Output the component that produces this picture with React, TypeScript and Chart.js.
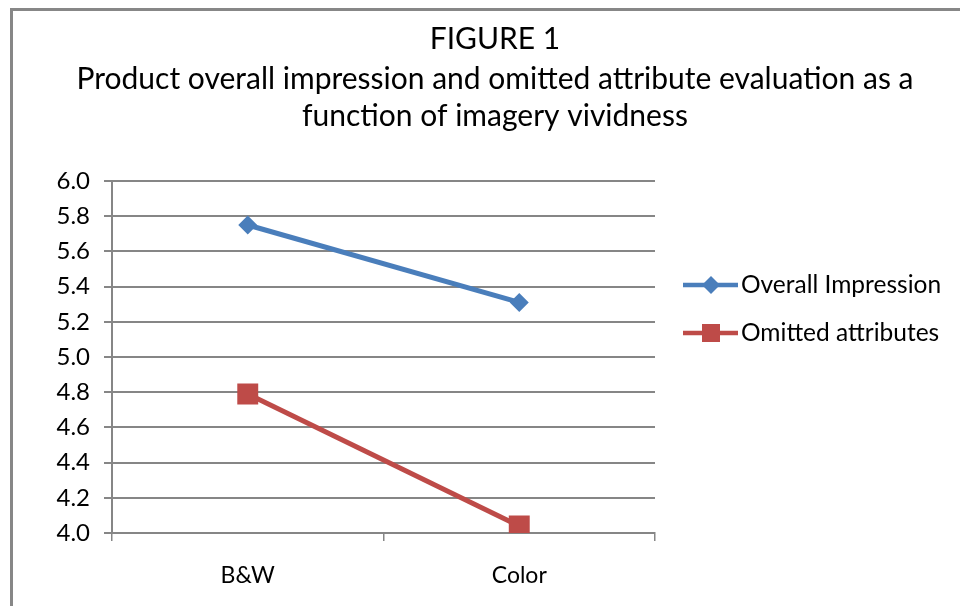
import React, { useEffect, useRef } from "react";
import { Chart, registerables } from "chart.js";

Chart.register(...registerables);

const categories = ["B&W", "Color"];
const overallImpression = [5.75, 5.31];
const omittedAttributes = [4.79, 4.04];
const seriesLabels = ["Overall Impression", "Omitted attributes"];
const titleLines = [
  "FIGURE 1",
  "Product overall impression and omitted attribute evaluation as a",
  "function of imagery vividness",
];
const yMin = 4.0;
const yMax = 6.0;
const yStep = 0.2;

const FONT = "Lato, 'Open Sans', sans-serif";
const GRID = "#868686";
const BLUE = "#4A7EBB";
const RED = "#BE4B48";

export default function App() {
  const ref = useRef<HTMLCanvasElement | null>(null);

  useEffect(() => {
    if (!ref.current) return;

    const titlePlugin = {
      id: "customTitle",
      afterDraw(chart: any) {
        const ctx = chart.ctx;
        ctx.save();
        ctx.fillStyle = "#000";
        ctx.font = `30px ${FONT}`;
        ctx.textAlign = "center";
        ctx.textBaseline = "middle";
        const ys = [39, 79, 116];
        titleLines.forEach((t, i) => ctx.fillText(t, 495, ys[i]));
        ctx.restore();
      },
    };

    const legendPlugin = {
      id: "customLegend",
      afterDraw(chart: any) {
        const ctx = chart.ctx;
        ctx.save();
        const ys = [285, 333];
        chart.data.datasets.forEach((ds: any, i: number) => {
          const y = ys[i];
          ctx.strokeStyle = ds.borderColor;
          ctx.lineWidth = 4.5;
          ctx.beginPath();
          ctx.moveTo(683, y);
          ctx.lineTo(738, y);
          ctx.stroke();
          ctx.fillStyle = ds.backgroundColor;
          if (ds.pointStyle === "rectRot") {
            const r = 9;
            ctx.beginPath();
            ctx.moveTo(711 - r, y);
            ctx.lineTo(711, y - r);
            ctx.lineTo(711 + r, y);
            ctx.lineTo(711, y + r);
            ctx.closePath();
            ctx.fill();
          } else {
            ctx.fillRect(711 - 9, y - 9, 18, 18);
          }
          ctx.fillStyle = "#000";
          ctx.font = `24.5px ${FONT}`;
          ctx.textAlign = "left";
          ctx.textBaseline = "middle";
          ctx.fillText(ds.label, 741, y);
        });
        ctx.restore();
      },
    };

    const chart = new Chart(ref.current, {
      type: "line",
      data: {
        labels: categories,
        datasets: [
          {
            label: seriesLabels[0],
            data: overallImpression,
            borderColor: BLUE,
            backgroundColor: BLUE,
            borderWidth: 5,
            pointStyle: "rectRot",
            pointRadius: 9.5,
            pointHoverRadius: 9.5,
            pointBorderWidth: 0,
            tension: 0,
          },
          {
            label: seriesLabels[1],
            data: omittedAttributes,
            borderColor: RED,
            backgroundColor: RED,
            borderWidth: 5,
            pointStyle: "rect",
            pointRadius: 14.8,
            pointHoverRadius: 14.8,
            pointBorderWidth: 0,
            tension: 0,
          },
        ],
      },
      plugins: [titlePlugin, legendPlugin],
      options: {
        animation: false,
        responsive: false,
        maintainAspectRatio: false,
        events: [],
        layout: { padding: { top: 181, right: 305, left: 0, bottom: 0 } },
        plugins: {
          legend: { display: false },
          title: { display: false },
          tooltip: { enabled: false },
        },
        scales: {
          x: {
            type: "category",
            offset: true,
            grid: {
              offset: true,
              drawOnChartArea: false,
              drawTicks: true,
              tickLength: 8,
              color: GRID,
              lineWidth: 1.5,
            },
            border: { display: true, color: GRID, width: 2 },
            ticks: {
              color: "#000",
              font: { family: FONT, size: 23 },
              padding: 21,
            },
            afterFit(scale: any) {
              scale.height = 73;
            },
          },
          y: {
            min: yMin,
            max: yMax,
            grid: {
              color: GRID,
              lineWidth: 2,
              drawTicks: true,
              tickLength: 8,
            },
            border: { display: true, color: GRID, width: 2 },
            ticks: {
              stepSize: yStep,
              color: "#000",
              font: { family: FONT, size: 24 },
              padding: 14,
              callback: (v: any) => Number(v).toFixed(1),
            },
            afterFit(scale: any) {
              scale.width = 112;
            },
          },
        },
      },
    } as any);

    return () => chart.destroy();
  }, []);

  return (
    <div
      style={{
        position: "fixed",
        left: 0,
        top: 0,
        width: 960,
        height: 606,
        overflow: "hidden",
        background: "#fff",
      }}
    >
      <div
        style={{
          position: "absolute",
          left: 10,
          top: 8,
          width: 1100,
          height: 800,
          border: "3px solid #878787",
          boxSizing: "border-box",
        }}
      />
      <canvas
        ref={ref}
        width={960}
        height={606}
        style={{ position: "absolute", left: 0, top: 0, width: 960, height: 606 }}
      />
    </div>
  );
}
